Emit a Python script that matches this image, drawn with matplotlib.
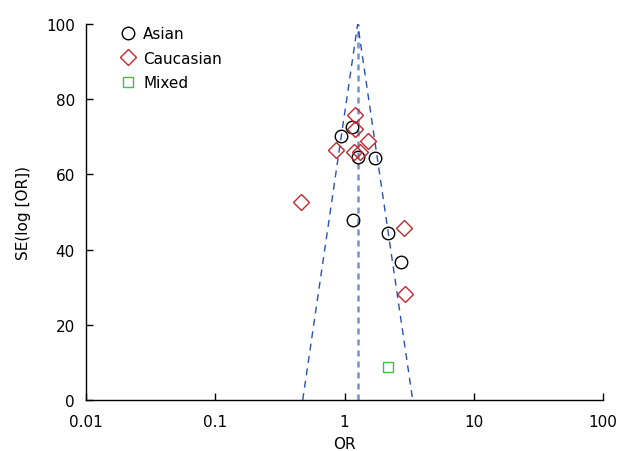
import matplotlib
matplotlib.use("Agg")
import matplotlib.pyplot as plt
import numpy as np

plt.rcParams['font.family'] = ['DejaVu Sans']

asian_or = [1.15, 0.935, 1.28, 1.73, 1.16, 2.18, 2.72]
asian_se = [72.5, 70.3, 64.5, 64.4, 47.9, 44.5, 36.6]
cauc_or = [1.21, 1.21, 1.52, 0.86, 1.18, 1.32, 0.458, 2.90, 2.95]
cauc_se = [75.8, 72.2, 69.0, 66.5, 66.0, 66.0, 52.7, 45.8, 28.2]
mixed_or = [2.18]
mixed_se = [8.9]

pooled_or = 1.265
funnel_low = 0.475
funnel_high = 3.37
se_top = 100
se_bottom = 0

xticks = [0.01, 0.1, 1, 10, 100]
xticklabels = ['0.01', '0.1', '1', '10', '100']
yticks = [0, 20, 40, 60, 80, 100]

fig = plt.figure(figsize=(6.24, 4.52), dpi=100)
ax = fig.add_axes([86/624, 1-401/452, (603-86)/624, (401-25)/452])

blue = '#2850b8'
ax.plot([pooled_or, pooled_or], [se_bottom, se_top], color='#7094d2', ls=(0, (2.4, 2.0)), lw=1.8)
ax.plot([funnel_low, pooled_or, funnel_high], [se_bottom, se_top, se_bottom], color=blue, ls=(0, (5, 4)), lw=1.0)

ax.plot(asian_or, asian_se, ls='none', marker='o', mfc='none', mec='black', ms=9, mew=1.0, label='Asian')
ax.plot(cauc_or, cauc_se, ls='none', marker='D', mfc='none', mec='#c0282d', ms=8, mew=1.0, label='Caucasian')
ax.plot(mixed_or, mixed_se, ls='none', marker='s', mfc='none', mec='#4cb84c', ms=7, mew=1.0, label='Mixed')

ax.set_xscale('log')
ax.set_xlim(0.01, 100)
ax.set_ylim(0, 100)
ax.set_xticks(xticks)
ax.set_xticklabels(xticklabels)
ax.set_yticks(yticks)
ax.minorticks_off()
ax.tick_params(axis='both', direction='in', length=5, width=1, labelsize=11, pad=8, colors='black')
ax.tick_params(axis='x', pad=10)
for s in ['top', 'right']:
    ax.spines[s].set_visible(False)
for s in ['left', 'bottom']:
    ax.spines[s].set_linewidth(1.0)

ax.set_xlabel('OR', fontsize=11, labelpad=5)
ax.set_ylabel('SE(log [OR])', fontsize=11, labelpad=11)

ax.legend(loc='upper left', bbox_to_anchor=(0.037, 1.031), frameon=False, fontsize=11,
          handletextpad=0.4, labelspacing=0.62, handlelength=1.2)

fig.savefig('out.png', dpi=100)
